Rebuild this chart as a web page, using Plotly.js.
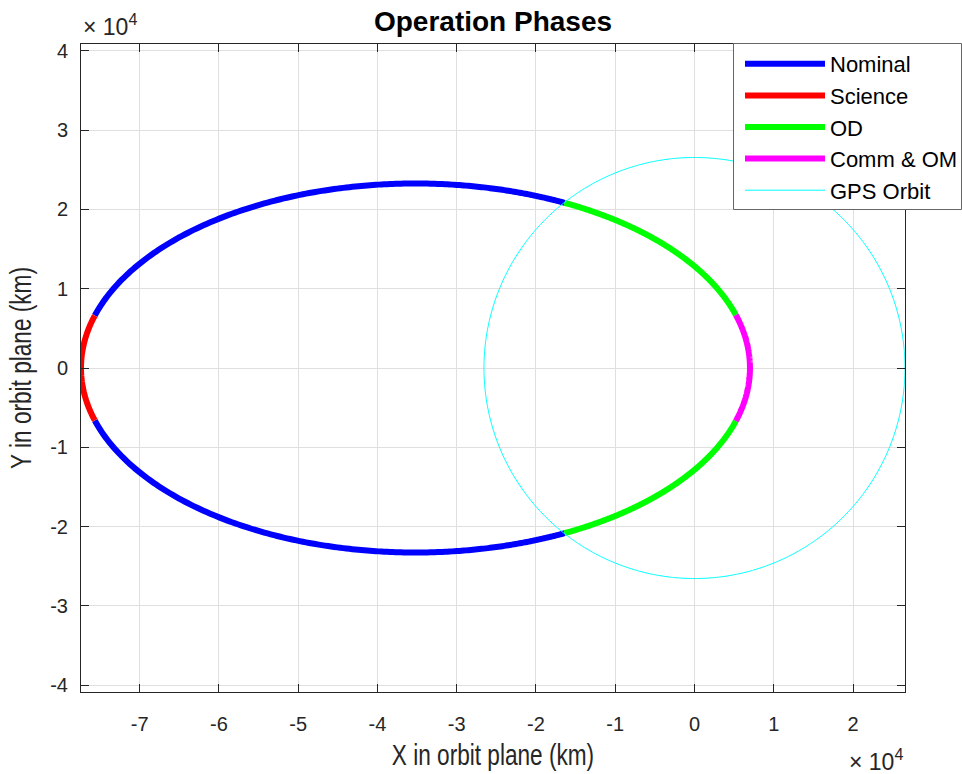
<!DOCTYPE html>
<html><head><meta charset="utf-8">
<script src="https://cdn.plot.ly/plotly-3.0.1.min.js"></script>
<style>html,body{margin:0;padding:0;background:#fff}#chart{width:962px;height:774px}</style>
</head><body><div id="chart"></div>
<script>
// Orbit elements (km)
const perigeeRadius = 7000;
const apogeeRadius = 77400;
const gpsRadius = 26560;

// Operation phases: arcs given as true-anomaly ranges (deg)
const phaseNames  = ["Nominal", "Science", "OD", "Comm & OM"];
const phaseColors = ["#0000ff", "#ff0000", "#00ff00", "#ff00ff"];
const phaseArcs = [
  [[128.2, 175], [185, 231.8]],
  [[175, 185]],
  [[52, 128.2], [231.8, 308]],
  [[-52, 52]]
];

// Tick positions / labels (labels in units of 1e4 km)
const xTickVals = [-70000, -60000, -50000, -40000, -30000, -20000, -10000, 0, 10000, 20000];
const xTickText = ["-7", "-6", "-5", "-4", "-3", "-2", "-1", "0", "1", "2"];
const yTickVals = [-40000, -30000, -20000, -10000, 0, 10000, 20000, 30000, 40000];
const yTickText = ["-4", "-3", "-2", "-1", "0", "1", "2", "3", "4"];

// Conic geometry from the orbit elements
const ecc = (apogeeRadius - perigeeRadius) / (apogeeRadius + perigeeRadius);
const semiLatus = perigeeRadius * (1 + ecc);
function arcPoints(t0, t1) {
  const xs = [], ys = [];
  const n = Math.max(2, Math.ceil(Math.abs(t1 - t0) / 0.25));
  for (let i = 0; i <= n; i++) {
    const th = (t0 + (t1 - t0) * i / n) * Math.PI / 180;
    const r = semiLatus / (1 + ecc * Math.cos(th));
    xs.push(r * Math.cos(th)); ys.push(r * Math.sin(th));
  }
  return [xs, ys];
}

const traces = phaseNames.map((name, k) => {
  let x = [], y = [];
  phaseArcs[k].forEach((arc, j) => {
    const [ax, ay] = arcPoints(arc[0], arc[1]);
    if (j > 0) { x.push(null); y.push(null); }
    x = x.concat(ax); y = y.concat(ay);
  });
  return {type: "scatter", mode: "lines", name, x, y, legendgroup: name,
          line: {color: phaseColors[k], width: 6, simplify: false}, hoverinfo: "skip"};
});

// GPS orbit circle
const gx = [], gy = [];
for (let i = 0; i <= 720; i++) {
  const a = i / 720 * 2 * Math.PI;
  gx.push(gpsRadius * Math.cos(a)); gy.push(gpsRadius * Math.sin(a));
}
traces.push({type: "scatter", mode: "lines", name: "GPS Orbit", x: gx, y: gy, legendgroup: "GPS Orbit",
             line: {color: "#00ffff", width: 1, simplify: false}, hoverinfo: "skip"});

const plotW = 824, plotH = 648, mL = 81, mT = 44;
const xRange = [-apogeeRadius, gpsRadius];
const ySpan = (xRange[1] - xRange[0]) * plotH / plotW;
const yRange = [-ySpan / 2, ySpan / 2];

const FONT = "Liberation Sans, Arial, sans-serif";

const axisCommon = {
  showgrid: true, gridcolor: "#dfdfdf", gridwidth: 1, zeroline: false,
  showline: true, linecolor: "#262626", linewidth: 1, mirror: "ticks",
  ticks: "inside", ticklen: 8, tickcolor: "#262626", tickwidth: 1,
  tickfont: {family: FONT, size: 20, color: "#262626"},
  tickmode: "array", automargin: false
};

// legend frame (pixels -> paper fractions)
const lgL = 733.5, lgR = 961.5, lgT = 43.5, lgB = 209.5;

const layout = {
  width: 962, height: 774,
  margin: {l: mL, r: 57, t: mT, b: 82, autoexpand: false},
  paper_bgcolor: "#ffffff", plot_bgcolor: "#ffffff",
  showlegend: true,
  title: {text: "<b>Operation Phases</b>", x: 0.5, xref: "paper", y: 1 - 21 / 774, yref: "container",
          yanchor: "middle", font: {family: FONT, size: 28, color: "#000"}},
  xaxis: Object.assign({}, axisCommon, {range: xRange, tickvals: xTickVals, ticktext: xTickText,
          ticklabelstandoff: 14,
          title: {text: "X in orbit plane (km)", standoff: 10,
                  font: {family: FONT, size: 29, color: "#262626"}}}),
  yaxis: Object.assign({}, axisCommon, {range: yRange, tickvals: yTickVals, ticktext: yTickText,
          ticklabelstandoff: 8,
          title: {text: "Y in orbit plane (km)", standoff: 10,
                  font: {family: FONT, size: 29, color: "#262626"}}}),
  legend: {xref: "container", yref: "container", x: 740 / 962, xanchor: "left", y: 1 - 43 / 774, yanchor: "top",
           bgcolor: "rgba(0,0,0,0)", borderwidth: 0,
           font: {family: FONT, size: 22, color: "#000"},
           traceorder: "grouped", tracegroupgap: 0, itemwidth: 80},
  shapes: [
    {type: "rect", xref: "paper", yref: "paper", layer: "above",
     x0: (lgL - mL) / plotW, x1: (lgR - mL) / plotW,
     y0: 1 - (lgB - mT) / plotH, y1: 1 - (lgT - mT) / plotH,
     fillcolor: "#ffffff", line: {color: "#666666", width: 1}}
  ],
  annotations: [
    {text: "× 10<sup>4</sup>", xref: "paper", yref: "paper", x: 0, y: 1, xanchor: "left", yanchor: "bottom",
     yshift: 2, showarrow: false, font: {family: FONT, size: 23, color: "#262626"}},
    {text: "× 10<sup>4</sup>", xref: "paper", yref: "paper", x: 1, y: 0, xanchor: "right", yanchor: "top",
     yshift: -51, showarrow: false, font: {family: FONT, size: 23, color: "#262626"}}
  ]
};

// Horizontally condense a text element about its anchor point (reference uses a narrow face)
function condense(sel, sx) {
  const t = document.querySelector(sel);
  if (!t) return;
  const x = +t.getAttribute("x"), y = +t.getAttribute("y");
  const prev = t.getAttribute("transform") || "";
  t.setAttribute("transform", prev + " translate(" + x + "," + y + ") scale(" + sx + ",1) translate(" + (-x) + "," + (-y) + ")");
}

Plotly.newPlot("chart", traces, layout, {displayModeBar: false, staticPlot: true}).then(() => {
  condense(".g-xtitle text", 0.78);
  condense(".g-ytitle text", 0.78);
});
</script>
</body></html>
